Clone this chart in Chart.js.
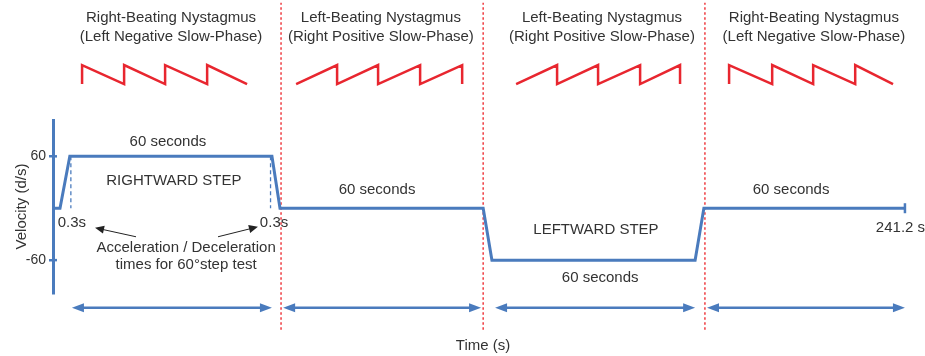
<!DOCTYPE html>
<html><head><meta charset="utf-8">
<script src="https://cdn.jsdelivr.net/npm/chart.js@4/dist/chart.umd.min.js"></script>
<style>html,body{margin:0;padding:0;background:#fff;}</style>
</head><body>
<canvas id="c" width="925" height="356"></canvas>
<script>
// ---- data (time in s, velocity in d/s) ----
const stepTime = [-2.0, 0, 2.8, 60.5, 62.8, 120.8, 123.3, 181.3, 183.8, 241.2];
const stepVelocity = [0, 0, 60, 60, 0, 0, -60, -60, 0, 0];
const rampMarkTime = [3.1, 60.1];
const rampMarkVelocity = [60, 0];
const velocityTicks = [-60, 60];
const velocityRange = [-98, 102];
const phaseDividerTime = [63.1, 120.8, 184.1];
const phaseDividerRange = [-140.6, 237.5];
const phaseTitleTime = [31.7, 91.6, 154.7, 215.2];
const phaseTitleLine1 = ['Right-Beating Nystagmus', 'Left-Beating Nystagmus', 'Left-Beating Nystagmus', 'Right-Beating Nystagmus'];
const phaseTitleLine2 = ['(Left Negative Slow-Phase)', '(Right Positive Slow-Phase)', '(Right Positive Slow-Phase)', '(Left Negative Slow-Phase)'];
const phaseTitleLevel = [219.7, 197.8];
const sawtoothTimes = [
  [6.3, 18.3, 30.0, 42.0, 53.4],
  [67.4, 79.1, 90.8, 102.8, 114.8],
  [130.2, 141.9, 153.6, 165.6, 177.0],
  [191.0, 203.3, 215.0, 227.0, 237.8]
];
const sawtoothBeat = ['right', 'left', 'left', 'right'];
const sawtoothRange = [143.5, 165.5];
const spanStart = [3.4, 63.7, 124.2, 184.7];
const spanEnd = [60.5, 120.2, 181.3, 241.2];
const spanLevel = -115;
const noteText = ['60 seconds', 'RIGHTWARD STEP', '0.3s', '0.3s', 'Acceleration / Deceleration', 'times for 60\u00b0step test', '60 seconds', 'LEFTWARD STEP', '60 seconds', '60 seconds'];
const noteTime = [30.8, 32.5, 3.4, 61.1, 36.0, 36.0, 90.5, 153.0, 154.2, 208.7];
const noteVelocity = [76.6, 31.6, -16.8, -16.8, -45.7, -65.3, 21.2, -24.9, -80.3, 21.2];
const endLabel = '241.2 s';
const endLabelAt = [232.9, -22.6];
const pointerFromTime = [21.7, 45.1];
const pointerFromVelocity = [-33, -33];
const pointerToTime = [10.0, 56.5];
const pointerToVelocity = [-22.6, -21.5];
const timeRange = [-2.0, 243.5];

// ---- styles ----
const BLUE = '#4a7bbd';
const RED = '#e8262f';
const REDDOT = '#ef3a3f';
const TEXT = '#333333';
const FONT = "'Liberation Sans', Arial, sans-serif";

function sawPath(times, beat) {
  const lo = sawtoothRange[0], hi = sawtoothRange[1];
  const pts = [];
  if (beat === 'right') {
    times.forEach((t, i) => {
      if (i < times.length - 1) { pts.push({x: t, y: lo}, {x: t, y: hi}); }
      else { pts.push({x: t, y: lo}); }
    });
  } else {
    times.forEach((t, i) => {
      if (i === 0) pts.push({x: t, y: lo});
      else pts.push({x: t, y: hi}, {x: t, y: lo});
    });
  }
  return pts;
}

const datasets = [];
datasets.push({
  label: 'step',
  data: stepTime.map((t, i) => ({x: t, y: stepVelocity[i]})),
  borderColor: BLUE, backgroundColor: BLUE, borderWidth: 3,
  pointRadius: stepTime.map((t, i) => i === stepTime.length - 1 ? 5 : 0),
  pointStyle: 'line', pointRotation: 90, pointBorderWidth: 2.5, pointBorderColor: BLUE,
  tension: 0, fill: false
});
rampMarkTime.forEach(t => datasets.push({
  data: rampMarkVelocity.map(v => ({x: t, y: v})),
  borderColor: BLUE, borderWidth: 1.3, borderDash: [4, 3], pointRadius: 0, fill: false
}));
phaseDividerTime.forEach(t => datasets.push({
  data: phaseDividerRange.map(v => ({x: t, y: v})),
  borderColor: REDDOT, borderWidth: 1.5, borderDash: [2.5, 2.5], pointRadius: 0, fill: false, clip: false
}));
sawtoothTimes.forEach((times, k) => datasets.push({
  data: sawPath(times, sawtoothBeat[k]),
  borderColor: RED, borderWidth: 2.5, pointRadius: 0, fill: false, clip: false,
  borderJoinStyle: 'miter'
}));

function arrowHead(ctx, x, y, ang, len, half) {
  ctx.save();
  ctx.translate(x, y); ctx.rotate(ang);
  ctx.beginPath();
  ctx.moveTo(0, 0); ctx.lineTo(-len, -half); ctx.lineTo(-len, half); ctx.closePath();
  ctx.fill();
  ctx.restore();
}

const annotate = {
  id: 'annotate',
  afterDatasetsDraw(chart) {
    const ctx = chart.ctx, xs = chart.scales.x, ys = chart.scales.y;
    ctx.save();
    // tick marks crossing the axis (right part)
    ctx.strokeStyle = BLUE; ctx.lineWidth = 2.5;
    velocityTicks.forEach(v => {
      const py = ys.getPixelForValue(v);
      ctx.beginPath(); ctx.moveTo(chart.chartArea.left, py); ctx.lineTo(chart.chartArea.left + 4, py); ctx.stroke();
    });
    // span double arrows
    ctx.fillStyle = BLUE; ctx.lineWidth = 2.5;
    const sy = ys.getPixelForValue(spanLevel);
    spanStart.forEach((s, i) => {
      const x0 = xs.getPixelForValue(s), x1 = xs.getPixelForValue(spanEnd[i]);
      ctx.beginPath(); ctx.moveTo(x0 + 6, sy); ctx.lineTo(x1 - 6, sy); ctx.stroke();
      arrowHead(ctx, x0, sy, Math.PI, 12, 4.5);
      arrowHead(ctx, x1, sy, 0, 12, 4.5);
    });
    // pointer arrows
    ctx.strokeStyle = '#222'; ctx.fillStyle = '#222'; ctx.lineWidth = 1;
    pointerFromTime.forEach((t, i) => {
      const x0 = xs.getPixelForValue(t), y0 = ys.getPixelForValue(pointerFromVelocity[i]);
      const x1 = xs.getPixelForValue(pointerToTime[i]), y1 = ys.getPixelForValue(pointerToVelocity[i]);
      const ang = Math.atan2(y1 - y0, x1 - x0);
      ctx.beginPath(); ctx.moveTo(x0, y0); ctx.lineTo(x1 - 6 * Math.cos(ang), y1 - 6 * Math.sin(ang)); ctx.stroke();
      arrowHead(ctx, x1, y1, ang, 9, 4);
    });
    // texts
    ctx.fillStyle = TEXT; ctx.textBaseline = 'middle'; ctx.textAlign = 'center';
    ctx.font = '15px ' + FONT;
    phaseTitleTime.forEach((t, i) => {
      const px = xs.getPixelForValue(t);
      ctx.fillText(phaseTitleLine1[i], px, ys.getPixelForValue(phaseTitleLevel[0]));
      ctx.fillText(phaseTitleLine2[i], px, ys.getPixelForValue(phaseTitleLevel[1]));
    });
    noteText.forEach((s, i) => {
      ctx.fillText(s, xs.getPixelForValue(noteTime[i]), ys.getPixelForValue(noteVelocity[i]));
    });
    ctx.textAlign = 'left';
    ctx.fillText(endLabel, xs.getPixelForValue(endLabelAt[0]), ys.getPixelForValue(endLabelAt[1]));
    ctx.restore();
  }
};

new Chart(document.getElementById('c'), {
  type: 'line',
  data: {datasets},
  plugins: [annotate],
  options: {
    responsive: false, animation: false, devicePixelRatio: 1,
    layout: {padding: {top: 120, right: 12, left: 0, bottom: 0}},
    plugins: {legend: {display: false}, tooltip: {enabled: false}},
    elements: {line: {tension: 0}},
    scales: {
      x: {
        type: 'linear', min: timeRange[0], max: timeRange[1],
        ticks: {display: false}, grid: {display: false}, border: {display: false},
        title: {display: true, text: 'Time (s)', color: TEXT, font: {size: 15, family: FONT}, padding: {top: 0, bottom: 1}},
        afterFit: s => { s.height = 63; }
      },
      y: {
        type: 'linear', min: velocityRange[0], max: velocityRange[1],
        afterBuildTicks: s => { s.ticks = velocityTicks.map(v => ({value: v})); },
        ticks: {color: TEXT, font: {size: 14, family: FONT}, padding: 3},
        grid: {display: true, drawOnChartArea: false, drawTicks: true, tickLength: 4, color: BLUE, lineWidth: 2.5},
        border: {display: true, color: BLUE, width: 3},
        title: {display: true, text: 'Velocity (d/s)', color: TEXT, font: {size: 15, family: FONT}, padding: {top: 13, bottom: 0}},
        afterFit: s => { s.width = 53; }
      }
    }
  }
});
</script>
</body></html>
